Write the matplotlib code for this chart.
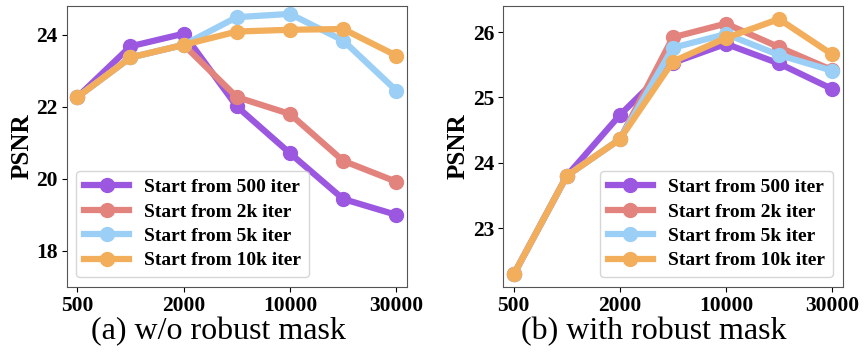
import numpy as np
import matplotlib.pyplot as plt

plt.rcParams['font.family'] = ['Liberation Serif', 'DejaVu Serif']

iters = ['500', '1000', '2000', '5000', '10000', '20000', '30000']
tick_labels = ['500', '2000', '10000', '30000']
labels = ['Start from 500 iter', 'Start from 2k iter',
          'Start from 5k iter', 'Start from 10k iter']
colors = ['#9b57e0', '#e3837e', '#9bcff5', '#f2ae5b']

# (a) w/o robust mask
psnr_a = [
    [22.27, 23.68, 24.03, 22.01, 20.71, 19.44, 19.00],
    [22.27, 23.37, 23.72, 22.27, 21.80, 20.50, 19.92],
    [22.27, 23.37, 23.72, 24.49, 24.58, 23.84, 22.45],
    [22.27, 23.37, 23.72, 24.09, 24.14, 24.16, 23.42],
]
# (b) with robust mask
psnr_b = [
    [22.29, 23.80, 24.73, 25.53, 25.82, 25.52, 25.13],
    [22.29, 23.80, 24.36, 25.92, 26.13, 25.77, 25.42],
    [22.29, 23.80, 24.36, 25.76, 25.97, 25.65, 25.41],
    [22.29, 23.80, 24.36, 25.55, 25.91, 26.20, 25.66],
]

fig = plt.figure(figsize=(8.66, 3.52), dpi=100)
ax1 = fig.add_axes([0.077, 0.185, 0.393, 0.798])
ax2 = fig.add_axes([0.581, 0.185, 0.392, 0.798])

x = np.arange(len(iters))
for ax, data, ylim, yt, loc, title, tx in [
        (ax1, psnr_a, (17.0, 24.8), [18, 20, 22, 24], 'lower left',
         '(a) w/o robust mask', 0.252),
        (ax2, psnr_b, (22.1, 26.4), [23, 24, 25, 26], 'lower right',
         '(b) with robust mask', 0.755)]:
    for vals, lab, c in zip(data, labels, colors):
        ax.plot(x, vals, '-o', color=c, lw=4.5, ms=10, label=lab)
    ax.set_xlim(-0.2, 6.2)
    ax.set_ylim(*ylim)
    ax.set_xticks([0, 2, 4, 6])
    ax.set_xticklabels(tick_labels)
    ax.set_yticks(yt)
    ax.tick_params(labelsize=15.5, colors='black', pad=3)
    for t in ax.get_xticklabels() + ax.get_yticklabels():
        t.set_fontweight('bold')
    for s in ax.spines.values():
        s.set_color('#555555')
    ax.set_ylabel('PSNR', fontsize=18, fontweight='bold', labelpad=2)
    leg = ax.legend(loc=loc, prop={'size': 14, 'weight': 'bold'},
                    handlelength=2.3, borderaxespad=0.5, labelspacing=0.35)
    fig.text(tx, 0.058, title, fontsize=23, ha='center', va='center')

fig.savefig('out.png', dpi=100)
